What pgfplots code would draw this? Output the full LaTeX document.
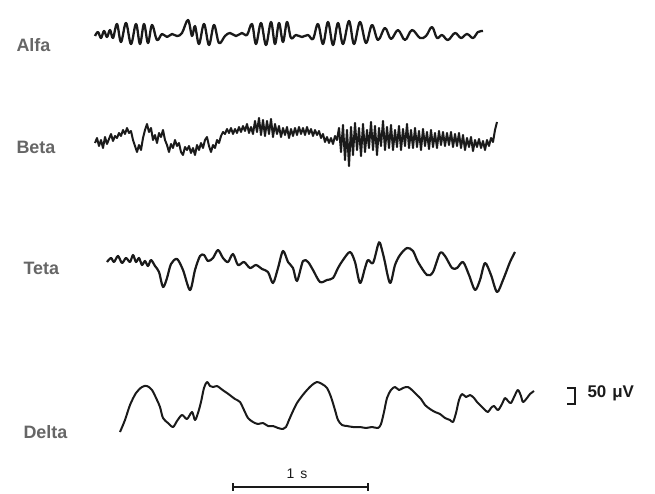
\documentclass[border=0pt]{standalone}
\usepackage{fontspec}
\setmainfont{Liberation Sans}
\usepackage{pgfplots}
\pgfplotsset{compat=1.18}
\definecolor{labgray}{HTML}{666666}
\definecolor{trace}{HTML}{1A1A1A}
\begin{document}
\begin{tikzpicture}
\begin{axis}[
  width=655bp, height=494bp, scale only axis,
  xmin=0, xmax=655, ymin=0, ymax=494, y dir=reverse,
  hide axis, clip=false,
]
\addplot[draw=none, forget plot] coordinates {(0,0) (655,494)};
% Alfa
\addplot[trace, line width=2.3bp, smooth, tension=0.6, line join=round] coordinates {
(95,36)(98,32)(101,38)(104,31)(107,37)(110,30)(113,38)
(117,24)(121,42)(126,23)(131,44)(136,24)(140,44)(144,24)(148,43)(152,25)(157,40)
(162,34)(167,37)(172,34)(177,36)(182,33)
(188,20)(192,36)(195,26)(199,44)(204,24)(209,45)(214,25)(219,43)
(225,36)(230,33)(236,36)(242,33)(247,35)
(252,24)(256,44)(261,23)(266,45)(271,22)(275,44)(279,23)(283,42)(287,22)(291,38)
(296,35)(302,37)(308,35)(313,39)
(318,24)(323,44)(328,22)(333,45)(338,23)(343,44)(349,21)(354,44)(360,22)(366,43)(372,25)(378,40)
(385,28)(391,39)(398,30)(405,40)(412,30)(420,38)(426,36)(432,27)(437,38)(442,35)(448,40)(455,33)(461,38)(467,34)(473,38)(478,32)(483,31)
};
% Beta
\addplot[trace, line width=2.0bp, line join=round] coordinates {
(95,143)(97,138)(99,146)(101,140)(103,148)(105,137)(107,144)(109,139)(111,134)(113,141)(115,136)(117,138)(119,133)(121,136)(123,130)(125,134)(127,128)(129,133)(131,131)(133,140)(135,146)(137,152)(139,145)(141,150)(143,138)(145,130)(147,124)(149,132)(151,128)(153,140)(155,135)(157,143)(159,133)(161,137)(163,130)(165,140)(167,145)(169,152)(171,144)(173,148)(175,140)(177,146)(179,143)(181,152)(183,155)(185,147)(187,150)(189,146)(191,153)(193,148)(195,155)(197,145)(199,150)(201,143)(203,148)(205,140)(207,137)(209,146)(211,152)(213,145)(215,148)(217,140)(219,143)(221,136)(223,132)(225,134)(227,129)
(229,133)(231,128)(233,134)(235,129)(237,133)(239,127)(241,132)(243,126)(245,131)(247,124)(249,133)(251,127)(253,134)(255,121)(257,132)(259,118)(261,135)(263,120)(265,136)(267,121)(269,134)(271,119)(273,137)(275,124)(277,134)(279,126)(281,137)(283,128)(285,135)(287,127)(289,138)(291,129)(293,136)(295,128)(297,135)(299,127)(301,134)(303,128)(305,135)(307,127)(309,134)(311,129)(313,136)(315,130)(317,135)(319,131)
(321,138)(323,134)(325,142)(327,137)(329,143)(331,138)(333,144)(335,136)(337,140)
(339,128)(341,152)(343,125)(345,160)(347,130)(349,166)(351,127)(353,155)(355,123)(357,150)(359,128)(361,156)(363,124)(365,152)(367,130)(369,148)(371,122)(373,150)(375,126)(377,155)(379,128)(381,146)(383,121)(385,150)(387,127)(389,148)(391,125)(393,150)(395,130)(397,147)(399,126)(401,150)(403,129)(405,146)(407,124)(409,148)
(411,130)(413,148)(415,128)(417,147)(419,131)(421,150)(423,129)(425,146)(427,132)(429,149)(431,130)(433,147)(435,133)(437,148)(439,131)(441,145)(443,132)(445,146)(447,133)(449,145)(451,132)(453,147)(455,134)(457,146)(459,133)
(461,148)(463,135)(465,150)(467,138)(469,147)(471,137)(473,151)(475,140)(477,147)(479,139)(481,148)(483,141)(485,150)(487,140)(489,146)(491,138)(493,142)(495,130)(497,122)
};
% Teta
\addplot[trace, line width=2.2bp, smooth, tension=0.5, line join=round] coordinates {
(107,262)(111,258)(114,262)(118,256)(122,263)(126,258)(130,262)(133,255)(136,262)(139,258)(142,265)(145,261)(148,266)(151,260)(155,266)(159,272)(163,287)(167,278)(171,264)(177,259)(183,270)(190,290)(195,270)(200,256)(204,255)(208,261)(213,258)(218,250)(223,258)(228,262)(233,254)(238,265)(244,262)(250,268)(256,265)(262,269)(268,272)(273,283)(278,268)(283,251)(288,262)(293,268)(297,281)(303,261)(308,262)(313,270)(320,282)(327,280)(333,278)(338,268)(343,260)(350,252)(355,262)(360,283)(365,268)(368,260)(373,263)(378,245)(380,243)(384,258)(390,283)(395,265)(400,255)(407,248)(413,251)(418,262)(427,275)(433,272)(440,253)(445,256)(452,268)(457,268)(463,262)(469,275)(475,290)(480,280)(485,263)(491,275)(497,292)(503,280)(510,262)(515,252)
};
% Delta
\addplot[trace, line width=2.0bp, smooth, tension=0.5, line join=round] coordinates {
(120,432)(125,420)(130,405)(136,393)(142,387)(147,386)(152,390)(157,400)(160,407)(163,418)(168,423)(173,427)(177,421)(182,415)(187,419)(192,412)(195,420)(198,413)(201,402)(204,388)(207,382)(210,386)(213,387)(217,386)(220,388)(224,391)(227,393)(231,396)(235,399)(240,402)(244,410)(248,418)(253,422)(258,424)(263,423)(268,426)(273,426)(278,428)(283,429)(286,427)(289,420)(293,411)(297,403)(302,396)(307,390)(312,385)(317,382)(322,384)(327,388)(331,397)(335,410)(338,420)(342,425)(347,426)(353,427)(360,427)(366,428)(372,427)(378,428)(381,424)(384,412)(387,398)(391,390)(395,387)(399,390)(403,388)(408,387)(413,391)(417,395)(421,399)(425,405)(430,409)(435,412)(440,414)(445,418)(450,420)(453,422)(456,413)(459,400)(462,394)(466,397)(470,395)(474,398)(477,402)(481,406)(485,410)(488,412)(491,408)(494,406)(498,410)(502,404)(505,398)(508,401)(511,403)(515,395)(518,390)(521,396)(523,402)(527,398)(530,394)(534,391)
};
% 50 uV bracket
\addplot[trace, line width=1.6bp] coordinates {(567,388)(575,388)(575,404)(567,404)};
% 1 s bar
\addplot[trace, line width=1.3bp] coordinates {(233,487)(368,487)};
\addplot[trace, line width=1.3bp] coordinates {(233,483)(233,491)};
\addplot[trace, line width=1.3bp] coordinates {(368,483)(368,491)};
% labels
\node[anchor=west, text=labgray, font=\fontsize{18}{20}\bfseries] at (axis cs:13,45) {Alfa};
\node[anchor=west, text=labgray, font=\fontsize{18}{20}\bfseries] at (axis cs:13,147) {Beta};
\node[anchor=west, text=labgray, font=\fontsize{18}{20}\bfseries] at (axis cs:20,268) {Teta};
\node[anchor=west, text=labgray, font=\fontsize{18}{20}\bfseries] at (axis cs:20,432) {Delta};
\node[anchor=west, text=trace, font=\fontsize{17}{19}\bfseries] at (axis cs:584,393) {50\hspace{6pt}μV};
\node[text=trace, font=\fontsize{14}{16}\selectfont] at (axis cs:297,474) {1\hspace{6pt}s};
\end{axis}
\end{tikzpicture}
\end{document}
